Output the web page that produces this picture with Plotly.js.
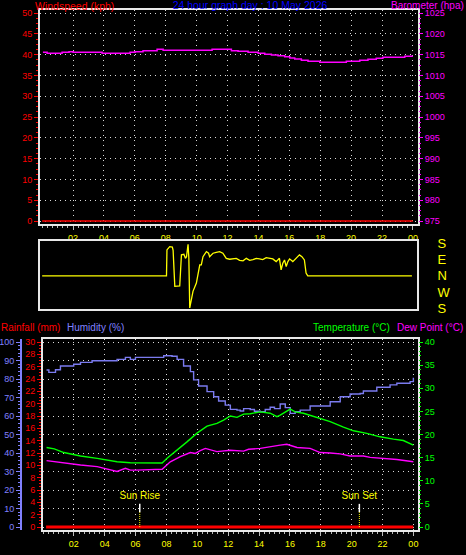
<!DOCTYPE html>
<html><head><meta charset="utf-8">
<script src="https://cdn.plot.ly/plotly-3.0.1.min.js"></script>
<style>html,body{margin:0;padding:0;background:#000;}#chart{width:466px;height:555px;}</style>
</head><body><div id="chart"></div>
<script>
// ---------- data ----------
const hourTickVals = [2,4,6,8,10,12,14,16,18,20,22,24];
const hourTickText = ['02','04','06','08','10','12','14','16','18','20','22','00'];

const windHours = [0, 24];
const windSpeed = [0, 0];

const baroHours = [0.05,0.32,1.29,1.74,2.0,3.88,5.69,6.01,6.53,7.44,7.83,11.0,12.25,12.68,13.33,13.98,14.41,14.84,15.27,15.70,16.03,16.35,16.78,17.21,17.97,19.69,20.56,21.09,21.63,22.06,23.47,24.0];
const baroHpa   = [1015.55,1015.31,1015.55,1015.70,1015.55,1015.31,1015.55,1015.70,1015.94,1016.27,1016.05,1016.27,1015.94,1015.79,1015.55,1015.31,1015.07,1014.90,1014.74,1014.50,1014.18,1013.94,1013.63,1013.39,1013.15,1013.39,1013.63,1013.87,1014.11,1014.35,1014.59,1014.59];

const dirHours = [0,8.07,8.10,8.28,8.45,8.50,8.61,8.93,9.04,9.20,9.30,9.37,9.47,9.52,9.58,9.63,9.79,10.01,10.23,10.33,10.44,10.66,10.80,10.87,11.09,11.30,11.52,11.73,11.95,12.17,12.38,12.60,12.82,13.04,13.25,13.47,13.68,13.90,14.11,14.32,14.54,14.75,14.97,15.19,15.40,15.51,15.62,15.73,15.84,15.95,16.06,16.27,16.48,16.70,16.86,17.02,17.13,17.24,24.0];
const dirDeg   = [0,0,142,160,158,140,-58,-55,115,118,96,105,173,100,-176,-150,-85,-40,60,60,105,133,124,105,124,129,133,124,96,91,93,96,85,82,96,85,89,96,93,89,100,96,93,78,96,33,69,87,51,78,93,78,96,115,105,87,15,0,0];
const dirTickVals = [180, 90, 0, -90, -180];
const dirTickText = ['S','E','N','W','S'];

const rainHours = [0.2, 24];
const rainMm = [0, 0];

const humHours = [0.23,0.38,0.81,1.13,1.99,2.43,3.18,4.80,5.34,5.66,5.99,7.82,8.36,8.69,9.11,9.55,9.76,10.08,10.63,11.06,11.38,11.81,12.14,12.57,12.78,13.0,13.43,13.7,14.08,14.4,14.72,15.0,15.37,15.70,16.02,16.34,16.67,17.31,17.96,18.61,19.26,19.90,20.55,20.76,21.63,22.49,22.93,23.79,24.0];
const humPct   = [84.9,83.6,85.0,87.0,88.0,89.0,89.9,90.6,91.7,90.6,91.7,92.6,92.3,90.6,87.0,84.0,79.5,76.2,73.2,70.4,68.1,65.9,63.6,63.2,62.7,64.0,63.5,62.6,62.3,63.5,64.7,64.0,66.5,64.5,61.4,62.3,63.2,65.4,65.4,67.7,70.4,71.9,72.2,73.5,75.5,76.8,77.7,78.6,80.7];

const tempHours = [0.23,0.73,1.35,2.43,3.51,4.80,5.66,6.74,7.72,8.04,8.69,9.33,9.98,10.63,11.27,11.70,12.14,12.57,13.0,13.43,14.08,14.72,15.16,15.37,16.02,16.34,16.88,17.96,18.61,19.47,20.12,20.98,21.84,22.71,23.35,24.0];
const tempC    = [17.2,16.9,16.1,15.35,14.85,14.1,13.9,13.8,13.85,14.85,16.6,18.4,20.3,21.8,22.4,23.1,24.0,23.7,24.4,24.5,24.9,24.6,23.85,24.2,25.5,24.9,24.6,23.5,22.8,21.6,20.8,20.25,19.5,19.0,18.7,17.7];

const dewHours = [0.23,1.35,2.43,3.51,4.6,4.80,5.34,5.66,6.0,7.72,8.25,8.9,9.55,9.87,10.19,10.52,11.27,12.14,13.0,13.32,14.08,14.72,15.37,15.8,16.46,17.31,17.96,18.61,19.26,19.90,20.76,21.2,22.06,22.93,24.0];
const dewC     = [14.35,13.8,13.4,13.05,12.3,12.0,12.7,12.3,12.3,12.5,14.1,15.2,16.1,15.9,16.5,17.0,16.3,16.6,16.4,16.8,17.0,17.4,17.7,17.9,17.2,17.0,16.1,16.0,15.8,15.35,15.35,15.06,14.85,14.6,14.1];

const sunEvents = ['Sun Rise', 'Sun Set'];
const sunHours = [6.27, 20.5];

// ---------- layout helpers ----------
const W = 466, H = 555;
const fx = p => p / W, fy = p => 1 - p / H;
const FONT = 'Liberation Sans, Arial, sans-serif';
const DOT = '1px,4px';
const GRID = '#d8d8d8';
const BORDER = '#e8e8e8';

function segs(xs, y0, y1) {
  const x = [], y = [];
  xs.forEach(h => { x.push(h, h, null); y.push(y0, y1, null); });
  return {x, y};
}
const sunWhite = segs(sunHours, 3.2, 5.0);
const sunDot = segs(sunHours, 0, 3.2);

const traces = [
  {x: windHours, y: windSpeed, xaxis: 'x', yaxis: 'y', mode: 'lines', line: {color: '#ff0000', width: 1.5}},
  {x: baroHours, y: baroHpa, xaxis: 'x', yaxis: 'y2', mode: 'lines', line: {color: '#ff00ff', width: 1.5, shape: 'hv'}},
  {x: dirHours, y: dirDeg, xaxis: 'x2', yaxis: 'y3', mode: 'lines', line: {color: '#ffff00', width: 1.3}},
  {x: rainHours, y: rainMm, xaxis: 'x3', yaxis: 'y4', mode: 'lines', line: {color: '#ff0000', width: 3}},
  {x: humHours, y: humPct, xaxis: 'x3', yaxis: 'y5', mode: 'lines', line: {color: '#7b7bef', width: 1.4, shape: 'hv'}},
  {x: tempHours, y: tempC, xaxis: 'x3', yaxis: 'y6', mode: 'lines', line: {color: '#00ff00', width: 1.4}},
  {x: dewHours, y: dewC, xaxis: 'x3', yaxis: 'y6', mode: 'lines', line: {color: '#ff00ff', width: 1.4}},
  {x: sunWhite.x, y: sunWhite.y, xaxis: 'x3', yaxis: 'y6', mode: 'lines', line: {color: '#ffffff', width: 1.5}},
  {x: sunDot.x, y: sunDot.y, xaxis: 'x3', yaxis: 'y6', mode: 'lines', line: {color: '#ffff00', width: 1, dash: '1px,1px'}},
  {x: sunHours, y: [6.6, 6.6], text: sunEvents, xaxis: 'x3', yaxis: 'y6', mode: 'text', textposition: 'middle center', textfont: {color: '#ffff00', size: 10, family: FONT}}
];

const xCommon = {
  tickmode: 'array', tickvals: hourTickVals, ticktext: hourTickText,
  tickfont: {color: '#ffff00', size: 9, family: FONT},
  ticks: 'outside', ticklen: 4, tickcolor: '#bbbbbb',
  minor: {dtick: 1/3, tick0: 0, ticks: 'outside', ticklen: 2, tickcolor: '#bbbbbb', showgrid: false},
  showgrid: true, gridcolor: GRID, griddash: DOT, gridwidth: 1,
  showline: true, mirror: true, linecolor: BORDER, linewidth: 2, zeroline: false
};

const layout = {
  width: W, height: H, margin: {l: 0, r: 0, t: 0, b: 0},
  paper_bgcolor: '#000', plot_bgcolor: '#000', showlegend: false,
  font: {family: FONT, size: 9, color: '#ffffff'},
  title: {text: '24 hour graph day : 10 May 2026', font: {color: '#0000ff', size: 10.5, family: FONT},
          x: fx(250), xanchor: 'center', y: fy(5.5), yanchor: 'middle', xref: 'paper', yref: 'paper'},
  xaxis: Object.assign({}, xCommon, {domain: [fx(40), fx(418)], range: [-0.14, 24.33], anchor: 'y'}),
  yaxis: {domain: [fy(224), fy(10)], range: [-0.72, 50.72], tick0: 0, dtick: 5,
          tickfont: {color: '#ff0000', size: 9}, ticks: 'outside', ticklen: 4, tickcolor: '#ff0000',
          minor: {dtick: 1.25, tick0: 0, ticks: 'outside', ticklen: 2, tickcolor: '#ff0000', showgrid: false},
          showgrid: true, gridcolor: GRID, griddash: DOT, gridwidth: 1,
          showline: true, mirror: true, linecolor: BORDER, linewidth: 2, zeroline: false, anchor: 'x'},
  yaxis2: {overlaying: 'y', side: 'right', anchor: 'x', range: [975 - 0.72, 1025.72], tick0: 975, dtick: 5,
           tickfont: {color: '#ff00ff', size: 9}, ticks: 'outside', ticklen: 4, tickcolor: '#ff00ff',
           minor: {dtick: 1.25, tick0: 975, ticks: 'outside', ticklen: 2, tickcolor: '#ff00ff', showgrid: false},
           showgrid: false, zeroline: false, showline: false},
  xaxis2: {domain: [fx(40), fx(417)], range: [-0.14, 24.33], anchor: 'y3', showticklabels: false, ticks: '',
           showgrid: false, showline: true, mirror: true, linecolor: BORDER, linewidth: 2, zeroline: false},
  yaxis3: {domain: [fy(309), fy(241)], range: [-182, 191], anchor: 'x2', side: 'right',
           tickmode: 'array', tickvals: dirTickVals, ticktext: dirTickText,
           tickfont: {color: '#ffff00', size: 13, family: FONT}, ticks: 'outside', ticklen: 16, tickcolor: 'rgba(0,0,0,0)',
           showgrid: false, showline: true, mirror: true, linecolor: BORDER, linewidth: 2, zeroline: false},
  xaxis3: Object.assign({}, xCommon, {domain: [fx(43), fx(418)], range: [0, 24.3], anchor: 'y4'}),
  yaxis4: {domain: [fy(530), fy(339)], range: [-0.486, 30.486], anchor: 'x3', side: 'left', tick0: 0, dtick: 2,
           tickfont: {color: '#ff0000', size: 9}, ticks: 'outside', ticklen: 4, tickcolor: '#ff0000',
           minor: {dtick: 0.5, tick0: 0, ticks: 'outside', ticklen: 2, tickcolor: '#ff0000', showgrid: false},
           showgrid: false, showline: true, mirror: true, linecolor: BORDER, linewidth: 2, zeroline: false},
  yaxis5: {overlaying: 'y4', anchor: 'free', position: fx(21), side: 'left', range: [-1.62, 101.62], tick0: 0, dtick: 10,
           tickfont: {color: '#8080ff', size: 9}, ticks: 'outside', ticklen: 4, tickcolor: '#8080ff',
           minor: {dtick: 2, tick0: 0, ticks: 'outside', ticklen: 2, tickcolor: '#8080ff', showgrid: false},
           showgrid: true, gridcolor: GRID, griddash: DOT, gridwidth: 1,
           showline: true, linecolor: '#8080ff', linewidth: 2, zeroline: false},
  yaxis6: {overlaying: 'y4', anchor: 'x3', side: 'right', range: [-0.649, 40.649], tick0: 0, dtick: 5,
           tickfont: {color: '#00ff00', size: 9}, ticks: 'outside', ticklen: 4, tickcolor: '#00ff00',
           minor: {dtick: 1, tick0: 0, ticks: 'outside', ticklen: 2, tickcolor: '#00ff00', showgrid: false},
           showgrid: false, zeroline: false, showline: false},
  annotations: [
    {text: 'Windspeed (kph)', x: fx(33), xanchor: 'left', y: fy(5.5), yanchor: 'middle', font: {color: '#ff0000', size: 10.5}},
    {text: 'Barometer (hpa)', x: fx(466), xanchor: 'right', y: fy(5), yanchor: 'middle', font: {color: '#ff00ff', size: 10}},
    {text: 'Rainfall (mm)', x: fx(-1), xanchor: 'left', y: fy(327), yanchor: 'middle', font: {color: '#ff0000', size: 10}},
    {text: 'Humidity (%)', x: fx(65), xanchor: 'left', y: fy(327), yanchor: 'middle', font: {color: '#8080ff', size: 10}},
    {text: 'Temperature (°C)', x: fx(311), xanchor: 'left', y: fy(327), yanchor: 'middle', font: {color: '#00ff00', size: 10}},
    {text: 'Dew Point (°C)', x: fx(465), xanchor: 'right', y: fy(327), yanchor: 'middle', font: {color: '#ff00ff', size: 10}}
  ].map(a => Object.assign({xref: 'paper', yref: 'paper', showarrow: false}, a))
};

Plotly.newPlot('chart', traces, layout, {staticPlot: true, displayModeBar: false});
</script>
</body></html>
